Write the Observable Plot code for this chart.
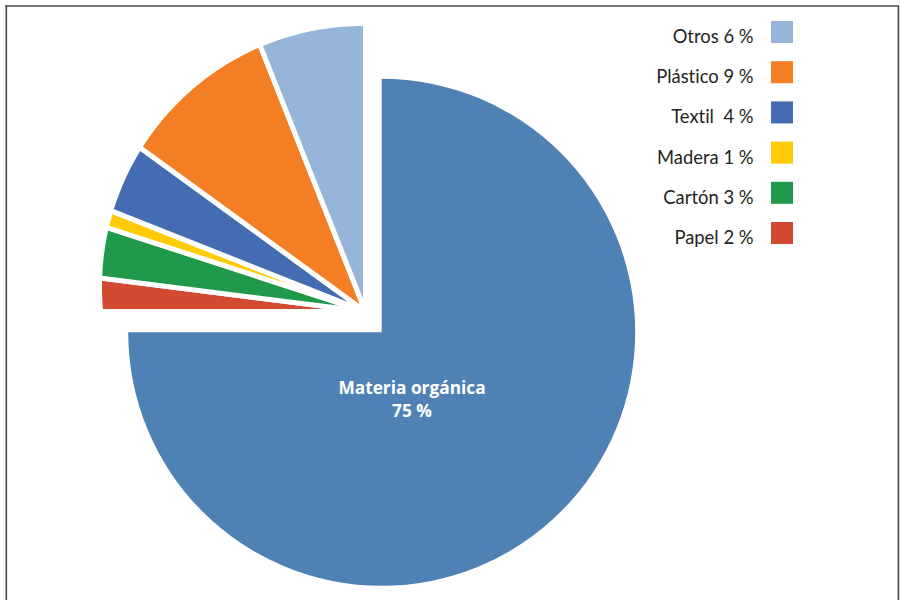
<!DOCTYPE html>
<html>
<head>
<meta charset="utf-8">
<script src="https://cdn.jsdelivr.net/npm/d3@7"></script>
<script src="https://cdn.jsdelivr.net/npm/@observablehq/plot@0.6"></script>
<style>
html, body { margin: 0; padding: 0; background: #fff; }
svg text { white-space: pre; font-variant-ligatures: none; font-feature-settings: "liga" 0, "dlig" 0; }
</style>
</head>
<body>
<div id="chart"></div>
<script>
// ---- data ----
const categories = ["Materia orgánica", "Papel", "Cartón", "Madera", "Textil", "Plástico", "Otros"];
const values = [75, 2, 3, 1, 4, 9, 6];
const colors = ["#4f81b5", "#d24a32", "#20994a", "#ffcb06", "#436cb2", "#f47e24", "#97b5d9"];
const legendOrder = ["Otros", "Plástico", "Textil", "Madera", "Cartón", "Papel"];
const legendLabels = ["Otros 6 %", "Plástico 9 %", "Textil  4 %", "Madera 1 %", "Cartón 3 %", "Papel 2 %"];
const mainLabel = ["Materia orgánica", "75 %"];

// ---- layout (chart units = pixels) ----
const W = 901, H = 600;
const MAIN = {cx: 381.7, cy: 332.3, r: 253.5};
const GROUP = {px: 365.5, py: 311.5, qx: 363, qy: 287, r: 263.5, gap: 5};

const table = categories.map((c, i) => ({category: c, value: values[i], color: colors[i]}));
const legend = legendOrder.map((name, i) => ({
  i, label: legendLabels[i], color: colors[categories.indexOf(name)]
}));

function pieMark(index, scales) {
  const sx = scales.x, sy = scales.y;
  const k = sx(1) - sx(0);
  const arcs = d3.pie().sort(null).value(d => d.value)(table);
  const g = d3.create("svg:g");
  // main slice
  const a0 = arcs[0];
  g.append("path")
    .attr("d", d3.arc().innerRadius(0).outerRadius(MAIN.r * k)(a0))
    .attr("transform", `translate(${sx(MAIN.cx)},${sy(MAIN.cy)})`)
    .attr("fill", a0.data.color);
  // detached group of small slices
  const hit = (a) => {
    const ux = Math.sin(a), uy = -Math.cos(a);
    const wx = GROUP.px - GROUP.qx, wy = GROUP.py - GROUP.qy;
    const b = ux * wx + uy * wy;
    const c = wx * wx + wy * wy - GROUP.r * GROUP.r;
    const t = -b + Math.sqrt(b * b - c);
    return [GROUP.px + t * ux, GROUP.py + t * uy];
  };
  const line = d3.line();
  arcs.slice(1).forEach(a => {
    const pts = [[GROUP.px, GROUP.py]];
    const n = Math.max(8, Math.ceil((a.endAngle - a.startAngle) / 0.01));
    for (let j = 0; j <= n; j++) pts.push(hit(a.startAngle + (a.endAngle - a.startAngle) * j / n));
    g.append("path")
      .attr("d", line(pts.map(([x, y]) => [sx(x), sy(y)])) + "Z")
      .attr("fill", a.data.color)
      .attr("stroke", "#fff")
      .attr("stroke-width", GROUP.gap);
  });
  return g.node();
}

const chart = Plot.plot({
  width: W,
  height: H,
  margin: 0,
  x: {domain: [0, W], range: [0, W], axis: null},
  y: {domain: [0, H], range: [0, H], axis: null},
  color: {type: "identity"},
  style: {fontFamily: "Lato, 'Open Sans', sans-serif", background: "#fff"},
  marks: [
    pieMark,
    Plot.text(mainLabel, {
      x: 411.5, y: (d, i) => 387.6 + i * 23, text: d => d,
      fill: "#fff", fontWeight: "bold", fontSize: 17.3,
      fontFamily: "'Open Sans', sans-serif"
    }),
    Plot.rect(legend, {
      x1: 771, x2: 793,
      y1: d => 21 + d.i * 40.2, y2: d => 43 + d.i * 40.2,
      fill: d => d.color
    }),
    Plot.text(legend, {
      x: 753, y: d => 36.4 + d.i * 40.3, text: "label",
      textAnchor: "end", fontSize: 18.4, fill: "#231f20"
    }),
    Plot.ruleX([5.8, 897.9], {y1: 5.5, y2: H, stroke: "#4a4a4a", strokeWidth: 1.6}),
    Plot.ruleY([5.5], {x1: 5, x2: 898.7, stroke: "#4a4a4a", strokeWidth: 1.6})
  ]
});
document.getElementById("chart").appendChild(chart);
</script>
</body>
</html>
